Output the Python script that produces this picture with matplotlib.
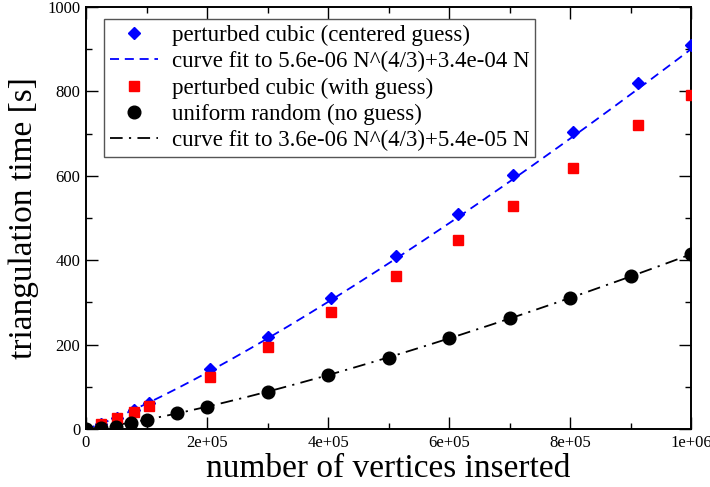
import numpy as np
import matplotlib
matplotlib.use("Agg")
import matplotlib.pyplot as plt
from matplotlib.ticker import MultipleLocator, FuncFormatter

plt.rcParams['font.family'] = ['Liberation Serif', 'DejaVu Serif']
plt.rcParams['mathtext.fontset'] = 'stix'

# ---- data ----
cubic_n = [24389, 50653, 79507, 103823, 205379, 300763, 405224, 512000,
           614125, 704969, 804357, 912673, 1000000]
centered_t = [12, 27, 46, 62, 141, 217, 311, 410, 509, 601, 704, 819, 911]
guess_t = [13, 25, 41, 55, 124, 195, 277, 363, 448, 528, 618, 720, 792]

random_n = [0, 25000, 50000, 75000, 100000, 150000, 200000, 300000, 400000,
            500000, 600000, 700000, 800000, 900000, 1000000]
random_t = [0, 2, 5.5, 14, 21, 37, 52, 87, 127, 169, 215, 262, 311, 363, 415]

# fit coefficients stated in the legend
fit_centered = (5.6e-06, 3.4e-04)
fit_random = (3.6e-06, 5.4e-05)

label_centered = "perturbed cubic (centered guess)"
label_fit_c = "curve fit to 5.6e-06 N^(4/3)+3.4e-04 N"
label_guess = "perturbed cubic (with guess)"
label_random = "uniform random (no guess)"
label_fit_r = "curve fit to 3.6e-06 N^(4/3)+5.4e-05 N"

fig = plt.figure(figsize=(7.10, 4.87), dpi=100)
ax = fig.add_axes([86/710, 58/487, 605/710, 422/487])

nn = np.linspace(0, 1e6, 400)
fc = fit_centered[0] * nn**(4/3) + fit_centered[1] * nn
fr = fit_random[0] * nn**(4/3) + fit_random[1] * nn

h1, = ax.plot(cubic_n, centered_t, linestyle='none', marker='D', ms=6.3,
              color='#0000ff', zorder=4, label=label_centered)
h2, = ax.plot(nn, fc, color='#0000ff', lw=1.3, dashes=(5, 3.2), zorder=3,
              label=label_fit_c)
h3, = ax.plot(cubic_n, guess_t, linestyle='none', marker='s', ms=7.9,
              color='#ff0000', zorder=5, label=label_guess)
h4, = ax.plot(random_n, random_t, linestyle='none', marker='o', ms=9.1,
              color='black', zorder=6, label=label_random)
h5, = ax.plot(nn, fr, color='black', lw=1.3, dashes=(7, 3.5, 1.2, 3.5), zorder=3,
              label=label_fit_r)

ax.set_xlim(0, 1e6)
ax.set_ylim(0, 1000)
ax.xaxis.set_major_locator(MultipleLocator(2e5))
ax.xaxis.set_minor_locator(MultipleLocator(1e5))
ax.yaxis.set_major_locator(MultipleLocator(200))
ax.yaxis.set_minor_locator(MultipleLocator(100))

def xfmt(v, pos):
    if v == 0:
        return "0"
    return "%.0e" % v
ax.xaxis.set_major_formatter(FuncFormatter(xfmt))
ax.yaxis.set_major_formatter(FuncFormatter(lambda v, p: "%d" % v))

ax.tick_params(which='both', direction='in', top=True, right=True,
               labelsize=12, width=1.0, colors='black')
ax.tick_params(which='major', length=8.5, pad=4)
ax.tick_params(which='minor', length=4.3)
for s in ax.spines.values():
    s.set_linewidth(1.4)

ax.set_xlabel("number of vertices inserted", fontsize=24, labelpad=2)
ax.set_ylabel("triangulation time [s]", fontsize=24, labelpad=6)

leg = ax.legend(handles=[h1, h2, h3, h4, h5], loc='upper left',
                bbox_to_anchor=(18/605, 1 - 12.3/422), borderaxespad=0,
                fontsize=16.5, handlelength=2.1, handletextpad=0.6,
                labelspacing=0.22, borderpad=0.25, fancybox=False,
                edgecolor='#555555', framealpha=1)
leg.get_frame().set_linewidth(1.0)

fig.savefig("out.png", dpi=100)
